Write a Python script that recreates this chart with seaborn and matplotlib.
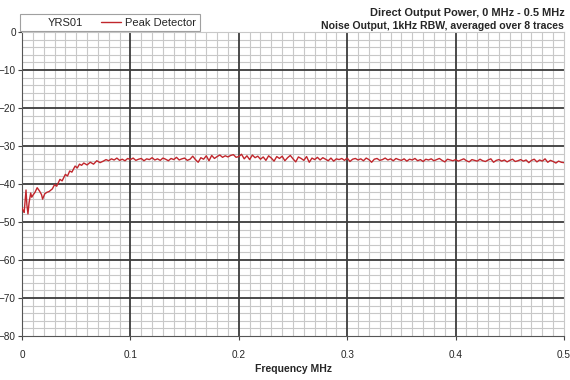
import numpy as np
import pandas as pd
import seaborn as sns
import matplotlib.pyplot as plt
from matplotlib.lines import Line2D
from matplotlib.ticker import MultipleLocator

# start of the trace, non-uniform sampling (MHz, dBm)
freq_start = [0.0, 0.001, 0.002, 0.003, 0.0037, 0.0045, 0.0055, 0.0065, 0.008, 0.009,
              0.010, 0.012, 0.014, 0.016, 0.018, 0.019, 0.021, 0.023, 0.025, 0.028,
              0.030, 0.032, 0.035, 0.037, 0.040, 0.042, 0.044, 0.046, 0.049, 0.051,
              0.053, 0.055, 0.057, 0.060, 0.063, 0.066, 0.069, 0.072]
level_start = [-46.3, -47.0, -47.5, -44.0, -41.6, -45.5, -47.9, -45.0, -42.4, -43.5,
               -43.0, -42.2, -41.0, -41.8, -42.8, -44.0, -42.6, -42.2, -42.0, -41.3,
               -40.2, -40.6, -38.8, -39.2, -37.5, -37.9, -36.6, -36.9, -35.3, -35.8,
               -34.8, -35.1, -34.5, -35.0, -34.3, -34.8, -33.9, -34.4]

# rest of the trace, 0.075 .. 0.5 MHz in 2.5 kHz steps
level_rest = [
    -34.0, -33.6, -33.9, -33.4, -33.7, -33.2, -33.8, -33.5, -33.9, -33.3,
    -33.6, -33.2, -33.8, -33.5, -33.3, -33.9, -33.4, -33.6, -33.1, -33.7,
    -33.4, -33.8, -33.2, -33.5, -33.9, -33.3, -33.6, -33.0, -33.7, -33.4,
    -33.2, -33.8, -33.5, -32.7, -33.6, -34.3, -33.1, -33.5, -32.6, -33.9,
    -32.5, -33.3, -32.8, -32.4, -33.0, -32.6, -32.9, -32.5, -32.3, -33.0,
    -32.8, -32.2, -33.4, -32.6, -33.6, -32.4, -33.1, -32.7, -33.5, -32.9,
    -33.8, -32.6, -33.2, -34.0, -32.8, -33.3, -32.7, -33.9, -33.1, -32.5,
    -33.4, -34.2, -32.9, -33.3, -33.8, -32.8, -34.3, -33.2, -33.6, -33.0,
    -33.7, -33.1, -33.5, -33.9, -33.2, -34.0, -33.4, -33.6, -33.3, -33.8,
    -33.2, -34.1, -33.5, -33.3, -33.7, -33.4, -33.9, -33.2, -33.6, -34.3,
    -33.5, -33.3, -33.8, -33.6, -33.2, -33.7, -33.4, -33.9, -33.3, -33.6,
    -33.8, -33.4, -34.0, -33.5, -33.7, -33.3, -33.9, -33.6, -34.1, -33.5,
    -33.7, -33.4, -33.9, -33.6, -33.3, -33.8, -34.2, -33.5, -33.7, -33.9,
    -33.6, -34.0, -33.7, -33.4, -33.9, -34.2, -33.6, -33.8, -34.0, -33.5,
    -33.9, -34.1, -33.7, -33.4, -34.3, -33.8, -33.6, -34.0, -33.7, -34.2,
    -33.8, -33.5, -34.1, -33.9, -33.6, -34.0, -33.7, -34.4, -33.8, -33.5,
    -34.2, -33.7, -34.0, -33.4, -34.3, -33.8, -34.1, -34.5, -34.0, -34.3,
    -34.4]
freq_rest = list(np.linspace(0.075, 0.5, len(level_rest)))

x_major = [0.1, 0.2, 0.3, 0.4]
y_major = [-70, -60, -50, -40, -30, -20, -10, 0]

df = pd.DataFrame({"freq": freq_start + freq_rest,
                   "level": level_start + level_rest})

sns.set_style("white")
plt.rcParams["font.family"] = ["Liberation Sans", "DejaVu Sans"]

fig = plt.figure(figsize=(5.7, 3.8), dpi=100)
ax = fig.add_axes([0.0386, 0.116, 0.9509, 0.800])

# light minor grid first, then the dark major lines over it
ax.xaxis.set_major_locator(MultipleLocator(0.1))
ax.xaxis.set_minor_locator(MultipleLocator(0.01))
ax.yaxis.set_major_locator(MultipleLocator(10))
ax.yaxis.set_minor_locator(MultipleLocator(2))
ax.grid(which="minor", color="#c8c8c8", linewidth=0.8)
ax.grid(which="major", visible=False)
ax.set_axisbelow(True)
for xv in x_major:
    ax.axvline(xv, color="#3c3c3c", linewidth=1.3, zorder=1)
for yv in y_major:
    ax.axhline(yv, color="#3c3c3c", linewidth=1.3, zorder=1)

sns.lineplot(data=df, x="freq", y="level", ax=ax, color="#c0262c",
             linewidth=1.0, estimator=None, sort=False, zorder=3)

ax.set_xlim(0, 0.5)
ax.set_ylim(-80, 0)
ax.xaxis.set_major_formatter(plt.FuncFormatter(lambda v, p: f"{v:g}"))

ax.tick_params(which="major", direction="out", length=3, width=0.8,
               color="#444444", labelsize=7.2, pad=1.5, left=True, bottom=True)
ax.tick_params(axis="x", pad=7)
for side in ["left", "bottom"]:
    ax.spines[side].set_color("#555555")
    ax.spines[side].set_linewidth(0.8)
for side in ["top", "right"]:
    ax.spines[side].set_color("#c8c8c8")
    ax.spines[side].set_linewidth(0.8)

ax.set_xlabel("Frequency MHz", fontsize=7.5, fontweight="bold", labelpad=3)
ax.set_ylabel("")

fig.text(0.99, 0.978, "Direct Output Power, 0 MHz - 0.5 MHz", ha="right", va="top",
         fontsize=7.9, fontweight="bold")
fig.text(0.99, 0.945, "Noise Output, 1kHz RBW, averaged over 8 traces", ha="right", va="top",
         fontsize=7.6, fontweight="bold")

handles = [Line2D([], [], color="none"), Line2D([], [], color="#c0262c", linewidth=1.0)]
leg = fig.legend(handles, ["YRS01", "Peak Detector"], ncol=2, loc="upper left",
                 bbox_to_anchor=(0.035, 0.962), fontsize=8, frameon=True, fancybox=False,
                 edgecolor="#888888", borderpad=0.3, handlelength=1.8, handletextpad=0.4,
                 columnspacing=1.6, borderaxespad=0)
leg.get_frame().set_linewidth(0.8)

fig.savefig("out.png", dpi=100)
